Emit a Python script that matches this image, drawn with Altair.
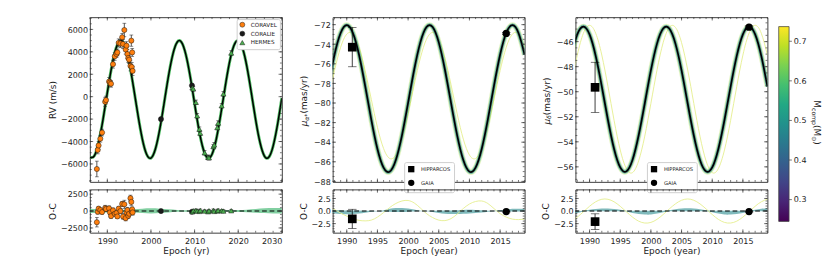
import altair as alt
import pandas as pd

FONT = "DejaVu Sans"
INK = "#222222"
FRAME = "#333333"

# ------------------------------------------------------------------ data
# Panel 1 : radial velocities (m/s)
rv_years = list(range(1986, 2031))
rv_best = [-5408, -5294, -4090, -2059, 364, 2660, 4317, 4994, 4540, 3051, 848,
           -1589, -3739, -5135, -5477, -4693, -2947, -619, 1792, 3754, 4857,
           4857, 3754, 1792, -619, -2947, -4693, -5477, -5135, -3739, -1589,
           848, 3051, 4540, 4994, 4317, 2660, 364, -2059, -4090, -5294, -5408,
           -4409, -2512, -127]
rv_band_years = list(range(1986, 2031, 2))
rv_band_hi = [350, 300, 250, 200, 200, 250, 350, 400, 350, 250, 150, 100,
              100, 100, 100, 120, 150, 150, 200, 300, 400, 450, 450]
rv_band_lo = [-300, -250, -200, -180, -180, -220, -300, -350, -300, -200,
              -120, -100, -100, -100, -100, -100, -120, -150, -180, -250,
              -300, -350, -350]

coravel_t = [1987.6, 1987.8, 1988.0, 1988.4, 1988.8, 1989.5, 1989.7, 1990.4,
             1990.6, 1990.85, 1991.3, 1991.7, 1992.1, 1992.3, 1992.6, 1993.0,
             1993.4, 1993.6, 1993.9, 1994.2, 1994.4, 1994.6, 1994.8, 1995.0,
             1995.3, 1995.5, 1995.6, 1995.7, 1995.8]
coravel_rv = [-6450, -4750, -4350, -3750, -3200, -450, -300, 1350, 1250, 1150,
              2900, 3600, 3800, 3950, 4800, 4750, 5300, 4700, 5950, 4200,
              4550, 3800, 3450, 3300, 2750, 5000, 2650, 3950, 2300]
coravel_err = [700, 350, 350, 300, 300, 400, 350, 350, 300, 300, 350, 350,
               300, 300, 350, 350, 350, 400, 600, 400, 350, 400, 400, 350,
               450, 500, 400, 350, 400]
coravel_oc = [-1650, -100, 350, 150, -150, 450, 300, 400, -200, -750, 100,
              -400, -300, -800, 350, 0, 1050, -800, 1000, -1050, -200, 150,
              -700, -400, 1900, 1350, -100, 250, -200]

coralie_t = [2002.3, 2009.4]
coralie_rv = [-2000, 1000]
coralie_err = [150, 150]
coralie_oc = [0, -100]

hermes_t = [2009.5, 2009.7, 2010.3, 2010.6, 2011.1, 2011.3, 2012.3, 2013.1,
            2013.3, 2014.3, 2014.5, 2015.2, 2015.4, 2016.2, 2016.6, 2018.4]
hermes_rv = [800, 700, -500, -1700, -2900, -3250, -5000, -5400, -5450, -4450,
             -4300, -2750, -2350, -800, 250, 3900]
hermes_err = [200] * 16
hermes_oc = [-100, 50, 100, 0, -50, 100, 0, -100, 50, 100, -50, 0, 100, 50,
             0, 50]

instruments = ["CORAVEL", "CORALIE", "HERMES"]
inst_colors = ["#ff7f0e", "#1a1a1a", "#4caf50"]
inst_shapes = ["circle", "circle", "triangle-up"]

# Panels 2 and 3 : proper motions (mas/yr)
pm_years = list(range(1987, 2020))
ma_best = [-78.25, -75.07, -72.85, -72.05, -72.85, -75.07, -78.25, -81.70,
           -84.70, -86.60, -87.00, -85.82, -83.30, -79.99, -76.58, -73.81,
           -72.25, -72.25, -73.81, -76.58, -79.99, -83.30, -85.82, -87.00,
           -86.60, -84.70, -81.70, -78.25, -75.07, -72.85, -72.05, -72.85,
           -75.07]
ma_yellow = [-79.62, -76.70, -74.31, -72.97, -72.97, -74.31, -76.70, -79.62,
             -82.48, -84.64, -85.66, -85.31, -83.68, -81.10, -78.13, -75.40,
             -73.49, -72.80, -73.49, -75.40, -78.13, -81.10, -83.68, -85.31,
             -85.66, -84.64, -82.48, -79.62, -76.70, -74.31, -72.97, -72.97,
             -74.31]
ma_res_yellow = [0.8, 0.3, -0.4, -1.0, -1.5, -1.85, -1.95, -1.8, -1.2, -0.3,
                 0.7, 1.5, 2.0, 2.1, 1.6, 0.6, -0.5, -1.3, -1.8, -1.9, -1.5,
                 -0.6, 0.5, 1.4, 1.9, 2.0, 1.5, 0.5, -0.5, -1.2, -1.6, -1.7,
                 -1.6]
ma_band_hi = [0.2, 0.2, 0.15, 0.1, 0.1, 0.1, 0.05, 0.05, 0.02, 0.15, 0.45,
              0.6, 0.6, 0.5, 0.3, 0.08, 0.05, 0.05, 0.1, 0.1, 0.1, 0.15, 0.2,
              0.25, 0.2, 0.15, 0.08, 0.05, 0.15, 0.3, 0.45, 0.45, 0.4]
ma_band_lo = [-0.4, -0.5, -0.6, -0.65, -0.6, -0.5, -0.35, -0.15, -0.03, -0.1,
              -0.15, -0.2, -0.2, -0.15, -0.1, -0.05, -0.05, -0.2, -0.4, -0.55,
              -0.6, -0.6, -0.55, -0.5, -0.4, -0.3, -0.15, -0.05, -0.05, -0.1,
              -0.1, -0.1, -0.1]

md_best = [-47.14, -45.42, -44.80, -45.42, -47.14, -49.59, -52.26, -54.58,
           -56.05, -56.36, -55.45, -53.50, -50.94, -48.30, -46.16, -44.96,
           -44.96, -46.16, -48.30, -50.94, -53.50, -55.45, -56.36, -56.05,
           -54.58, -52.26, -49.59, -47.14, -45.42, -44.80, -45.42, -47.14,
           -49.59]
md_yellow = [-49.58, -47.08, -45.33, -44.70, -45.33, -47.08, -49.58, -52.29,
             -54.65, -56.14, -56.46, -55.53, -53.55, -50.94, -48.26, -46.08,
             -44.86, -44.86, -46.08, -48.26, -50.94, -53.55, -55.53, -56.46,
             -56.14, -54.65, -52.29, -49.58, -47.08, -45.33, -44.70, -45.33,
             -47.08]
md_res_yellow = [-2.01, -1.20, -0.14, 0.95, 1.84, 2.34, 2.34, 1.84, 0.95,
                 -0.14, -1.20, -2.01, -2.38, -2.26, -1.65, -0.69, 0.42, 1.43,
                 2.14, 2.40, 2.14, 1.43, 0.42, -0.69, -1.65, -2.26, -2.38,
                 -2.01, -1.20, -0.14, 0.95, 1.84, 2.34]
md_band_hi = [0.05, 0.05, 0.05, 0.25, 0.4, 0.5, 0.5, 0.4, 0.25, 0.05, 0.05,
              0.05, 0.05, 0.05, 0.05, 0.05, 0.15, 0.35, 0.5, 0.55, 0.5, 0.35,
              0.15, 0.05, 0.05, 0.05, 0.05, 0.05, 0.05, 0.05, 0.25, 0.45, 0.55]
md_band_lo = [-0.6, -0.4, -0.1, -0.05, -0.05, -0.05, -0.05, -0.05, -0.05,
              -0.1, -0.4, -0.6, -0.7, -0.7, -0.5, -0.25, -0.05, -0.05, -0.05,
              -0.05, -0.05, -0.05, -0.05, -0.25, -0.5, -0.7, -0.7, -0.6, -0.4,
              -0.1, -0.05, -0.05, -0.05]

astro_src = ["HIPPARCOS", "GAIA"]
astro_t = [1990.9, 2016.0]
ma_obs = [-74.3, -72.9]
ma_err = [2.0, 0.1]
ma_oc = [-1.55, -0.1]
ma_oc_err = [1.9, 0.1]
md_obs = [-49.65, -44.85]
md_err = [2.0, 0.1]
md_oc = [-2.1, -0.1]
md_oc_err = [1.55, 0.1]

cbar_range = [0.245, 0.737]
cbar_ticks = [0.3, 0.4, 0.5, 0.6, 0.7]
cbar_labels = ["0.3", "0.4", "0.5", "0.6", "0.7"]
viridis = ["#440154", "#482475", "#414487", "#355f8d", "#2a788e", "#21918c",
           "#22a884", "#44bf70", "#7ad151", "#bddf26", "#fde725"]

# ------------------------------------------------------------------ geometry
W = 204
H_MAIN = 175
H_RES = 46

X1 = [1986, 2030]
Y1 = [-7600, 7090]
Y1R = [-3200, 3200]
X23 = [1987.7, 2019.0]
Y2 = [-88.05, -71.24]
Y3 = [-57.2, -44.05]
YR = [-4.3, 4.3]
CB_DOM = [0.3448, 0.7608]


def sc(dom):
    return alt.Scale(domain=dom, nice=False, zero=False)


def frange(a, b, step):
    out, v = [], a
    while v <= b + 1e-9:
        out.append(round(v, 4))
        v += step
    return out


AX_STYLE = dict(ticks=False, domain=False, grid=False, labelFont=FONT, titleFont=FONT,
                labelColor=INK, titleColor=INK, titleFontWeight="normal",
                labelFontSize=8.5, titleFontSize=9.5)


def yaxis(values, title, fmt):
    return alt.Axis(values=values, title=title, format=fmt, labelPadding=2.5,
                    titlePadding=3, **AX_STYLE)


def xaxis(values, title):
    return alt.Axis(values=values, title=title, format="d", labelPadding=4,
                    titlePadding=2, labelAngle=0, **AX_STYLE)


class Panel:
    """Shared scales/axes so every layer of a panel agrees on them."""

    def __init__(self, xdom, ydom, xax, yax, h):
        self.xdom, self.ydom, self.xax, self.yax, self.h = xdom, ydom, xax, yax, h

    def X(self, f):
        return alt.X(f"{f}:Q", scale=sc(self.xdom), axis=self.xax)

    def Y(self, f):
        return alt.Y(f"{f}:Q", scale=sc(self.ydom), axis=self.yax)

    def ticks(self, xmaj, xmin, ymaj, ymin):
        layers = []
        for vals, L in ((xmaj, 3.5), (xmin, 2.0)):
            vals = [v for v in vals if self.xdom[0] <= v <= self.xdom[1]]
            base = alt.Chart(pd.DataFrame({"epoch": vals})).mark_rule(
                color=FRAME, strokeWidth=0.7)
            layers.append(base.encode(x=self.X("epoch"), y=alt.value(self.h),
                                      y2=alt.value(self.h - L)))
            layers.append(base.encode(x=self.X("epoch"), y=alt.value(0), y2=alt.value(L)))
        for vals, L in ((ymaj, 3.5), (ymin, 2.0)):
            vals = [v for v in vals if self.ydom[0] <= v <= self.ydom[1]]
            base = alt.Chart(pd.DataFrame({"val": vals})).mark_rule(
                color=FRAME, strokeWidth=0.7)
            layers.append(base.encode(y=self.Y("val"), x=alt.value(0), x2=alt.value(L)))
            layers.append(base.encode(y=self.Y("val"), x=alt.value(W), x2=alt.value(W - L)))
        return layers

    def errbars(self, df, lof, hif, cap, color="#222222"):
        bar = alt.Chart(df).mark_rule(color=color, strokeWidth=0.8).encode(
            x=self.X("epoch"), y=self.Y(lof), y2=f"{hif}:Q")
        lo = alt.Chart(df).mark_tick(color=color, orient="horizontal", size=cap,
                                     thickness=0.8).encode(x=self.X("epoch"), y=self.Y(lof))
        hi = alt.Chart(df).mark_tick(color=color, orient="horizontal", size=cap,
                                     thickness=0.8).encode(x=self.X("epoch"), y=self.Y(hif))
        return [bar, lo, hi]

    def zero(self):
        return alt.Chart(pd.DataFrame({"val": [0]})).mark_rule(
            color="black", strokeDash=[5, 3], strokeWidth=1.1).encode(y=self.Y("val"))


def rotated_title(pieces, x0, y_center, angle=270):
    """Axis title built from text pieces (main text + subscripts)."""
    total = sum(p[3] for p in pieces)
    layers = []
    pos = y_center + total / 2 if angle == 270 else y_center - total / 2
    for s, fs, sub, w, style in pieces:
        dx = (2.5 if angle == 270 else -2.5) if sub else 0
        layers.append(alt.Chart(pd.DataFrame({"s": [s]})).mark_text(
            align="left", baseline="middle", angle=angle, font=FONT, fontSize=fs,
            fontStyle=style, color=INK).encode(
            x=alt.value(x0 + dx), y=alt.value(pos), text="s:N"))
        pos = pos - w if angle == 270 else pos + w
    return layers


# ------------------------------------------------------------------ panel 1
rows = []
for name, ts, vs, es, ocs in (("CORAVEL", coravel_t, coravel_rv, coravel_err, coravel_oc),
                              ("CORALIE", coralie_t, coralie_rv, coralie_err, coralie_oc),
                              ("HERMES", hermes_t, hermes_rv, hermes_err, hermes_oc)):
    for t, v, e, o in zip(ts, vs, es, ocs):
        rows.append({"epoch": t, "rv": v, "lo": v - e, "hi": v + e,
                     "oc": o, "oclo": o - e, "ochi": o + e, "inst": name})
df_rv = pd.DataFrame(rows)
df_rv_model = pd.DataFrame({"epoch": rv_years, "rv": rv_best})
df_rv_band = pd.DataFrame({"epoch": rv_band_years, "hi": rv_band_hi, "lo": rv_band_lo})

legend1 = alt.Legend(title=None, orient="top-right", offset=2, fillColor="white",
                     strokeColor="#cccccc", padding=3, cornerRadius=2,
                     labelFontSize=6, labelFont=FONT, labelColor=INK, symbolSize=28,
                     rowPadding=1.5, symbolStrokeColor="#111111", symbolStrokeWidth=0.5,
                     labelOffset=6)

P1 = Panel(X1, Y1, None, yaxis(list(range(-6000, 6001, 2000)), "RV (m/s)", "d"), H_MAIN)
m1_layers = [
    alt.Chart(df_rv_model).mark_line(color="#52c067", strokeWidth=3.2,
                                     interpolate="natural", clip=True).encode(
        x=P1.X("epoch"), y=P1.Y("rv")),
    alt.Chart(df_rv_model).mark_line(color="black", strokeWidth=1.6,
                                     interpolate="natural", clip=True).encode(
        x=P1.X("epoch"), y=P1.Y("rv")),
]
m1_layers += P1.ticks(frange(1990, 2030, 10), frange(1986, 2030, 2),
                      frange(-6000, 6000, 2000), frange(-7500, 7000, 500))
m1_layers += P1.errbars(df_rv, "lo", "hi", 4)
m1_layers.append(
    alt.Chart(df_rv).mark_point(filled=True, size=30, stroke="#111111",
                                strokeWidth=0.5, opacity=1).encode(
        x=P1.X("epoch"), y=P1.Y("rv"),
        color=alt.Color("inst:N", scale=alt.Scale(domain=instruments, range=inst_colors),
                        legend=legend1),
        shape=alt.Shape("inst:N", scale=alt.Scale(domain=instruments, range=inst_shapes),
                        legend=legend1)))
m1 = alt.layer(*m1_layers).properties(width=W, height=H_MAIN)

R1 = Panel(X1, Y1R, xaxis([1990, 2000, 2010, 2020, 2030], "Epoch (yr)"),
           yaxis([-2500, 0, 2500], "O-C", "d"), H_RES)
r1_layers = [
    alt.Chart(df_rv_band).mark_area(color="#3fb56f", opacity=0.65,
                                    interpolate="natural", clip=True).encode(
        x=R1.X("epoch"), y=R1.Y("hi"), y2="lo:Q"),
    R1.zero(),
]
r1_layers += R1.ticks(frange(1990, 2030, 10), frange(1986, 2030, 2),
                      [-2500, 0, 2500], frange(-3000, 3000, 500))
r1_layers += R1.errbars(df_rv, "oclo", "ochi", 4)
r1_layers.append(
    alt.Chart(df_rv).mark_point(filled=True, size=30, stroke="#111111",
                                strokeWidth=0.5, opacity=1).encode(
        x=R1.X("epoch"), y=R1.Y("oc"),
        color=alt.Color("inst:N", scale=alt.Scale(domain=instruments, range=inst_colors),
                        legend=None),
        shape=alt.Shape("inst:N", scale=alt.Scale(domain=instruments, range=inst_shapes),
                        legend=None)))
r1 = alt.layer(*r1_layers).properties(width=W, height=H_RES)


# ------------------------------------------------------------------ panels 2 / 3
def astro_legend():
    return alt.Legend(title=None, orient="none", legendX=76, legendY=154,
                      fillColor="white", strokeColor="#cccccc", padding=3,
                      cornerRadius=2, labelFontSize=5.5, labelFont=FONT, labelColor=INK,
                      symbolSize=45, rowPadding=1.5, symbolFillColor="black",
                      symbolStrokeColor="black", labelOffset=6)


def astro_points(P, dfa, legend):
    shp = alt.Scale(domain=astro_src, range=["square", "circle"])
    out = []
    for src, size in (("HIPPARCOS", 85), ("GAIA", 60)):
        out.append(alt.Chart(dfa[dfa["src"] == src]).mark_point(
            filled=True, color="black", opacity=1, size=size).encode(
            x=P.X("epoch"), y=P.Y("val"),
            shape=alt.Shape("src:N", scale=shp, legend=legend)))
    return out


def astro_df(vals, errs):
    return pd.DataFrame({"src": astro_src, "epoch": astro_t, "val": vals,
                         "lo": [o - e for o, e in zip(vals, errs)],
                         "hi": [o + e for o, e in zip(vals, errs)]})


def pm_main(best, yellow, obs, err, ydom, yvals, title_pieces):
    P = Panel(X23, ydom, None, yaxis(yvals, None, "d"), H_MAIN)
    dfm = pd.DataFrame({"epoch": pm_years, "best": best, "yellow": yellow})
    dfa = astro_df(obs, err)
    layers = [
        alt.Chart(dfm).mark_line(color="#e6ef93", strokeWidth=1.0,
                                 interpolate="natural", clip=True).encode(
            x=P.X("epoch"), y=P.Y("yellow")),
    ]
    for col, wd, op in (("#a5db36", 6, 0.3), ("#1f9e89", 4.2, 0.45), ("#31688e", 2.8, 0.5),
                        ("black", 1.8, 1.0)):
        layers.append(alt.Chart(dfm).mark_line(color=col, strokeWidth=wd, opacity=op,
                                               interpolate="natural", clip=True).encode(
            x=P.X("epoch"), y=P.Y("best")))
    layers += P.ticks(frange(1990, 2015, 5), frange(1988, 2019, 1),
                      yvals, frange(-90, -40, 0.5))
    layers += P.errbars(dfa, "lo", "hi", 9, color="black")
    layers += astro_points(P, dfa, astro_legend())
    layers += rotated_title(title_pieces, -30, H_MAIN / 2)
    return layers


def pm_res(res_yellow, band_hi, band_lo, oc, oc_err):
    P = Panel(X23, YR, xaxis([1990, 1995, 2000, 2005, 2010, 2015], "Epoch (year)"),
              yaxis([-2.5, 0, 2.5], "O-C", ".1f"), H_RES)
    dfm = pd.DataFrame({"epoch": pm_years, "res": res_yellow, "hi": band_hi, "lo": band_lo})
    dfa = astro_df(oc, oc_err)
    layers = [
        alt.Chart(dfm).mark_area(color="#2a8a8e", opacity=0.6, interpolate="natural",
                                 clip=True).encode(x=P.X("epoch"), y=P.Y("hi"), y2="lo:Q"),
        alt.Chart(dfm).mark_line(color="#e6ef93", strokeWidth=1.0, interpolate="natural",
                                 clip=True).encode(x=P.X("epoch"), y=P.Y("res")),
        P.zero(),
    ]
    layers += P.ticks(frange(1990, 2015, 5), frange(1988, 2019, 1),
                      [-2.5, 0, 2.5], frange(-4, 4, 0.5))
    layers += P.errbars(dfa, "lo", "hi", 9, color="black")
    layers += astro_points(P, dfa, None)
    return layers


# title pieces: (text, font size, is subscript, advance in px, font style)
ma_title = [("μ", 9.5, False, 5.8, "italic"), ("α*", 6.5, True, 7.6, "italic"),
            ("\u00a0(mas/yr)", 9.5, False, 43.2, "normal")]
md_title = [("μ", 9.5, False, 5.8, "italic"), ("δ", 6.5, True, 4.2, "italic"),
            ("\u00a0(mas/yr)", 9.5, False, 43.2, "normal")]

m2 = alt.layer(*pm_main(ma_best, ma_yellow, ma_obs, ma_err, Y2,
                        list(range(-88, -71, 2)), ma_title)).properties(
    width=W, height=H_MAIN)
r2 = alt.layer(*pm_res(ma_res_yellow, ma_band_hi, ma_band_lo, ma_oc, ma_oc_err)).properties(
    width=W, height=H_RES)

# colour bar (drawn to the right of panel 3)
cb_y = alt.Y("v:Q", scale=sc(CB_DOM), axis=None)
cb_layers = [
    alt.Chart(pd.DataFrame({"v": [cbar_range[0]], "hi": [cbar_range[1]]})).mark_rect(
        fill=alt.Gradient(gradient="linear",
                          stops=[alt.GradientStop(color=c, offset=i / 10)
                                 for i, c in enumerate(viridis)],
                          x1=0, x2=0, y1=1, y2=0),
        stroke="#444444", strokeWidth=0.8).encode(
        x=alt.value(216), x2=alt.value(227), y=cb_y, y2="hi:Q"),
    alt.Chart(pd.DataFrame({"v": cbar_ticks})).mark_rule(color=FRAME, strokeWidth=0.7).encode(
        y=cb_y, x=alt.value(227), x2=alt.value(230)),
    alt.Chart(pd.DataFrame({"v": cbar_ticks, "lab": cbar_labels})).mark_text(
        align="left", baseline="middle", font=FONT, fontSize=8.5, color=INK).encode(
        y=cb_y, x=alt.value(232), text="lab:N"),
]
cb_layers += rotated_title([("M", 9.5, False, 8.2, "normal"), ("comp", 6.5, True, 18.0, "normal"),
                            ("(M", 9.5, False, 11.9, "normal"), ("\u2299", 6.5, True, 5.5, "normal"),
                            (")", 9.5, False, 3.7, "normal")], 256, 112, angle=90)

m3 = alt.layer(
    alt.layer(*pm_main(md_best, md_yellow, md_obs, md_err, Y3,
                       list(range(-56, -43, 2)), md_title)),
    alt.layer(*cb_layers),
).resolve_scale(y="independent").properties(width=W, height=H_MAIN)
r3 = alt.layer(*pm_res(md_res_yellow, md_band_hi, md_band_lo, md_oc, md_oc_err)).properties(
    width=W, height=H_RES)

chart = alt.ConcatChart(
    concat=[m1, m2, m3, r1, r2, r3], columns=3,
    spacing=alt.RowColnumber(row=8, column=54), bounds="flush",
).resolve_scale(color="independent", shape="independent", size="independent").resolve_legend(
    color="independent", shape="independent", size="independent"
).properties(padding={"left": 42, "top": 0, "right": 0, "bottom": 25}).configure_view(
    stroke=FRAME, strokeWidth=1)

chart.save("out.html", embed_options={"renderer": "svg", "actions": False})
